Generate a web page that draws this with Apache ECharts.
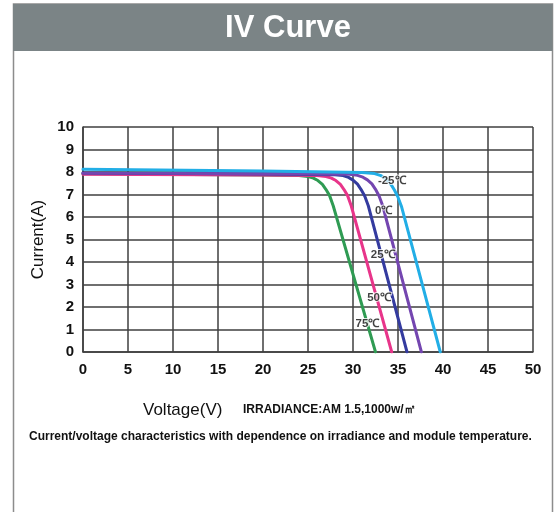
<!DOCTYPE html>
<html>
<head>
<meta charset="utf-8">
<script src="https://cdn.jsdelivr.net/npm/echarts@6/dist/echarts.min.js"></script>
<style>
html,body{margin:0;padding:0;background:#fff;}
#c{width:557px;height:512px;}
</style>
</head>
<body>
<div id="c"></div>
<script>
// ---- data ----
const xTicks = [0, 50, 5];   // min, max, interval (V)
const yTicks = [0, 10, 1];   // min, max, interval (A)

const curveM25 = [[0,8.12],[20,8.04],[31,7.98],[32.4,7.93],[33.1,7.84],[33.7,7.68],[34.2,7.46],[34.6,7.2],[35.0,6.88],[35.4,6.45],[39.7,0]];
const curve0   = [[0,7.95],[20,7.92],[29.6,7.9],[30.5,7.85],[31.1,7.77],[31.6,7.65],[32.1,7.47],[32.5,7.23],[32.9,6.93],[33.3,6.5],[37.6,0]];
const curve25  = [[0,7.95],[20,7.91],[28,7.88],[28.9,7.84],[29.5,7.76],[30.0,7.64],[30.5,7.46],[30.9,7.22],[31.3,6.93],[31.7,6.5],[36.0,0]];
const curve50  = [[0,7.9],[20,7.87],[26,7.84],[27,7.8],[27.6,7.73],[28.1,7.62],[28.6,7.45],[29.0,7.22],[29.4,6.95],[29.8,6.5],[34.3,0]];
const curve75  = [[0,7.92],[20,7.87],[24,7.84],[25,7.8],[25.6,7.73],[26.1,7.62],[26.6,7.45],[27.0,7.22],[27.4,6.95],[27.8,6.5],[32.5,0]];

const tempNames  = ['-25℃','0℃','25℃','50℃','75℃'];
const tempLabelV = [34.3, 33.4, 33.3, 32.9, 31.6];
const tempLabelI = [7.6, 6.27, 4.31, 2.42, 1.27];

const titleText = 'IV Curve';
const xName = 'Voltage(V)';
const yName = 'Current(A)';
const noteText = 'IRRADIANCE:AM 1.5,1000w/㎡';
const captionText = 'Current/voltage characteristics with dependence on irradiance and module temperature.';

// ---- chart ----
const chart = echarts.init(document.getElementById('c'), null, {renderer:'canvas'});
const FONT = '"Liberation Sans", Arial, Helvetica, sans-serif';
const gridColor = '#3f3f3f';

function lineSeries(name, data, color, z){
  return {
    name, type:'line', data, smooth:false,
    symbol:'none', z,
    lineStyle:{color, width:3, join:'round', cap:'round'}
  };
}

const labelData = tempNames.map((n,i)=>({name:n, value:[tempLabelV[i], tempLabelI[i]]}));

chart.setOption({
  animation:false,
  backgroundColor:'#ffffff',
  grid:{left:83, top:127, right:24, bottom:160, containLabel:false},
  xAxis:{
    type:'value', min:xTicks[0], max:xTicks[1], interval:xTicks[2],
    axisLine:{show:true, lineStyle:{color:gridColor, width:1.5}},
    axisTick:{show:false},
    splitLine:{show:true, lineStyle:{color:gridColor, width:1.5}},
    axisLabel:{color:'#111', fontFamily:FONT, fontWeight:'bold', fontSize:15, margin:10}
  },
  yAxis:{
    type:'value', min:yTicks[0], max:yTicks[1], interval:yTicks[2],
    axisLine:{show:true, lineStyle:{color:gridColor, width:1.5}},
    axisTick:{show:false},
    splitLine:{show:true, lineStyle:{color:gridColor, width:1.5}},
    axisLabel:{color:'#111', fontFamily:FONT, fontWeight:'bold', fontSize:15, margin:9},
    name:yName, nameLocation:'middle', nameRotate:90, nameGap:36,
    nameTextStyle:{color:'#111', fontFamily:FONT, fontSize:17}
  },
  graphic:[
    {type:'rect', z:-10, shape:{x:13.5, y:4, width:539, height:540}, style:{fill:'#fff', stroke:'#8c8c8c', lineWidth:1.5}},
    {type:'rect', z:-5, shape:{x:13, y:4, width:539.5, height:47}, style:{fill:'#7b8486'}},
    {type:'text', z:10, x:288, y:28, style:{text:titleText, fill:'#ffffff', font:'bold 31px '+FONT, textAlign:'center', textVerticalAlign:'middle'}},
    {type:'text', z:10, x:143, y:410, style:{text:xName, fill:'#111', font:'17px '+FONT, textAlign:'left', textVerticalAlign:'middle'}},
    {type:'text', z:10, x:243, y:410, style:{text:noteText, fill:'#111', font:'bold 12px '+FONT, textAlign:'left', textVerticalAlign:'middle'}},
    {type:'text', z:10, x:29, y:437, style:{text:captionText, fill:'#111', font:'bold 12px '+FONT, textAlign:'left', textVerticalAlign:'middle'}}
  ],
  series:[
    lineSeries('75℃', curve75, '#2f9b53', 2),
    lineSeries('50℃', curve50, '#e8358a', 3),
    lineSeries('25℃', curve25, '#343b9f', 4),
    lineSeries('0℃', curve0, '#7446b0', 5),
    lineSeries('-25℃', curveM25, '#22aee6', 6),
    {
      type:'scatter', data:labelData, symbolSize:0, z:10,
      label:{show:true, position:'inside', formatter:p=>p.name,
        fontFamily:FONT, fontWeight:'bold', fontSize:11.5, color:'#111',
        textBorderColor:'#fff', textBorderWidth:2}
    }
  ]
});
</script>
</body>
</html>
